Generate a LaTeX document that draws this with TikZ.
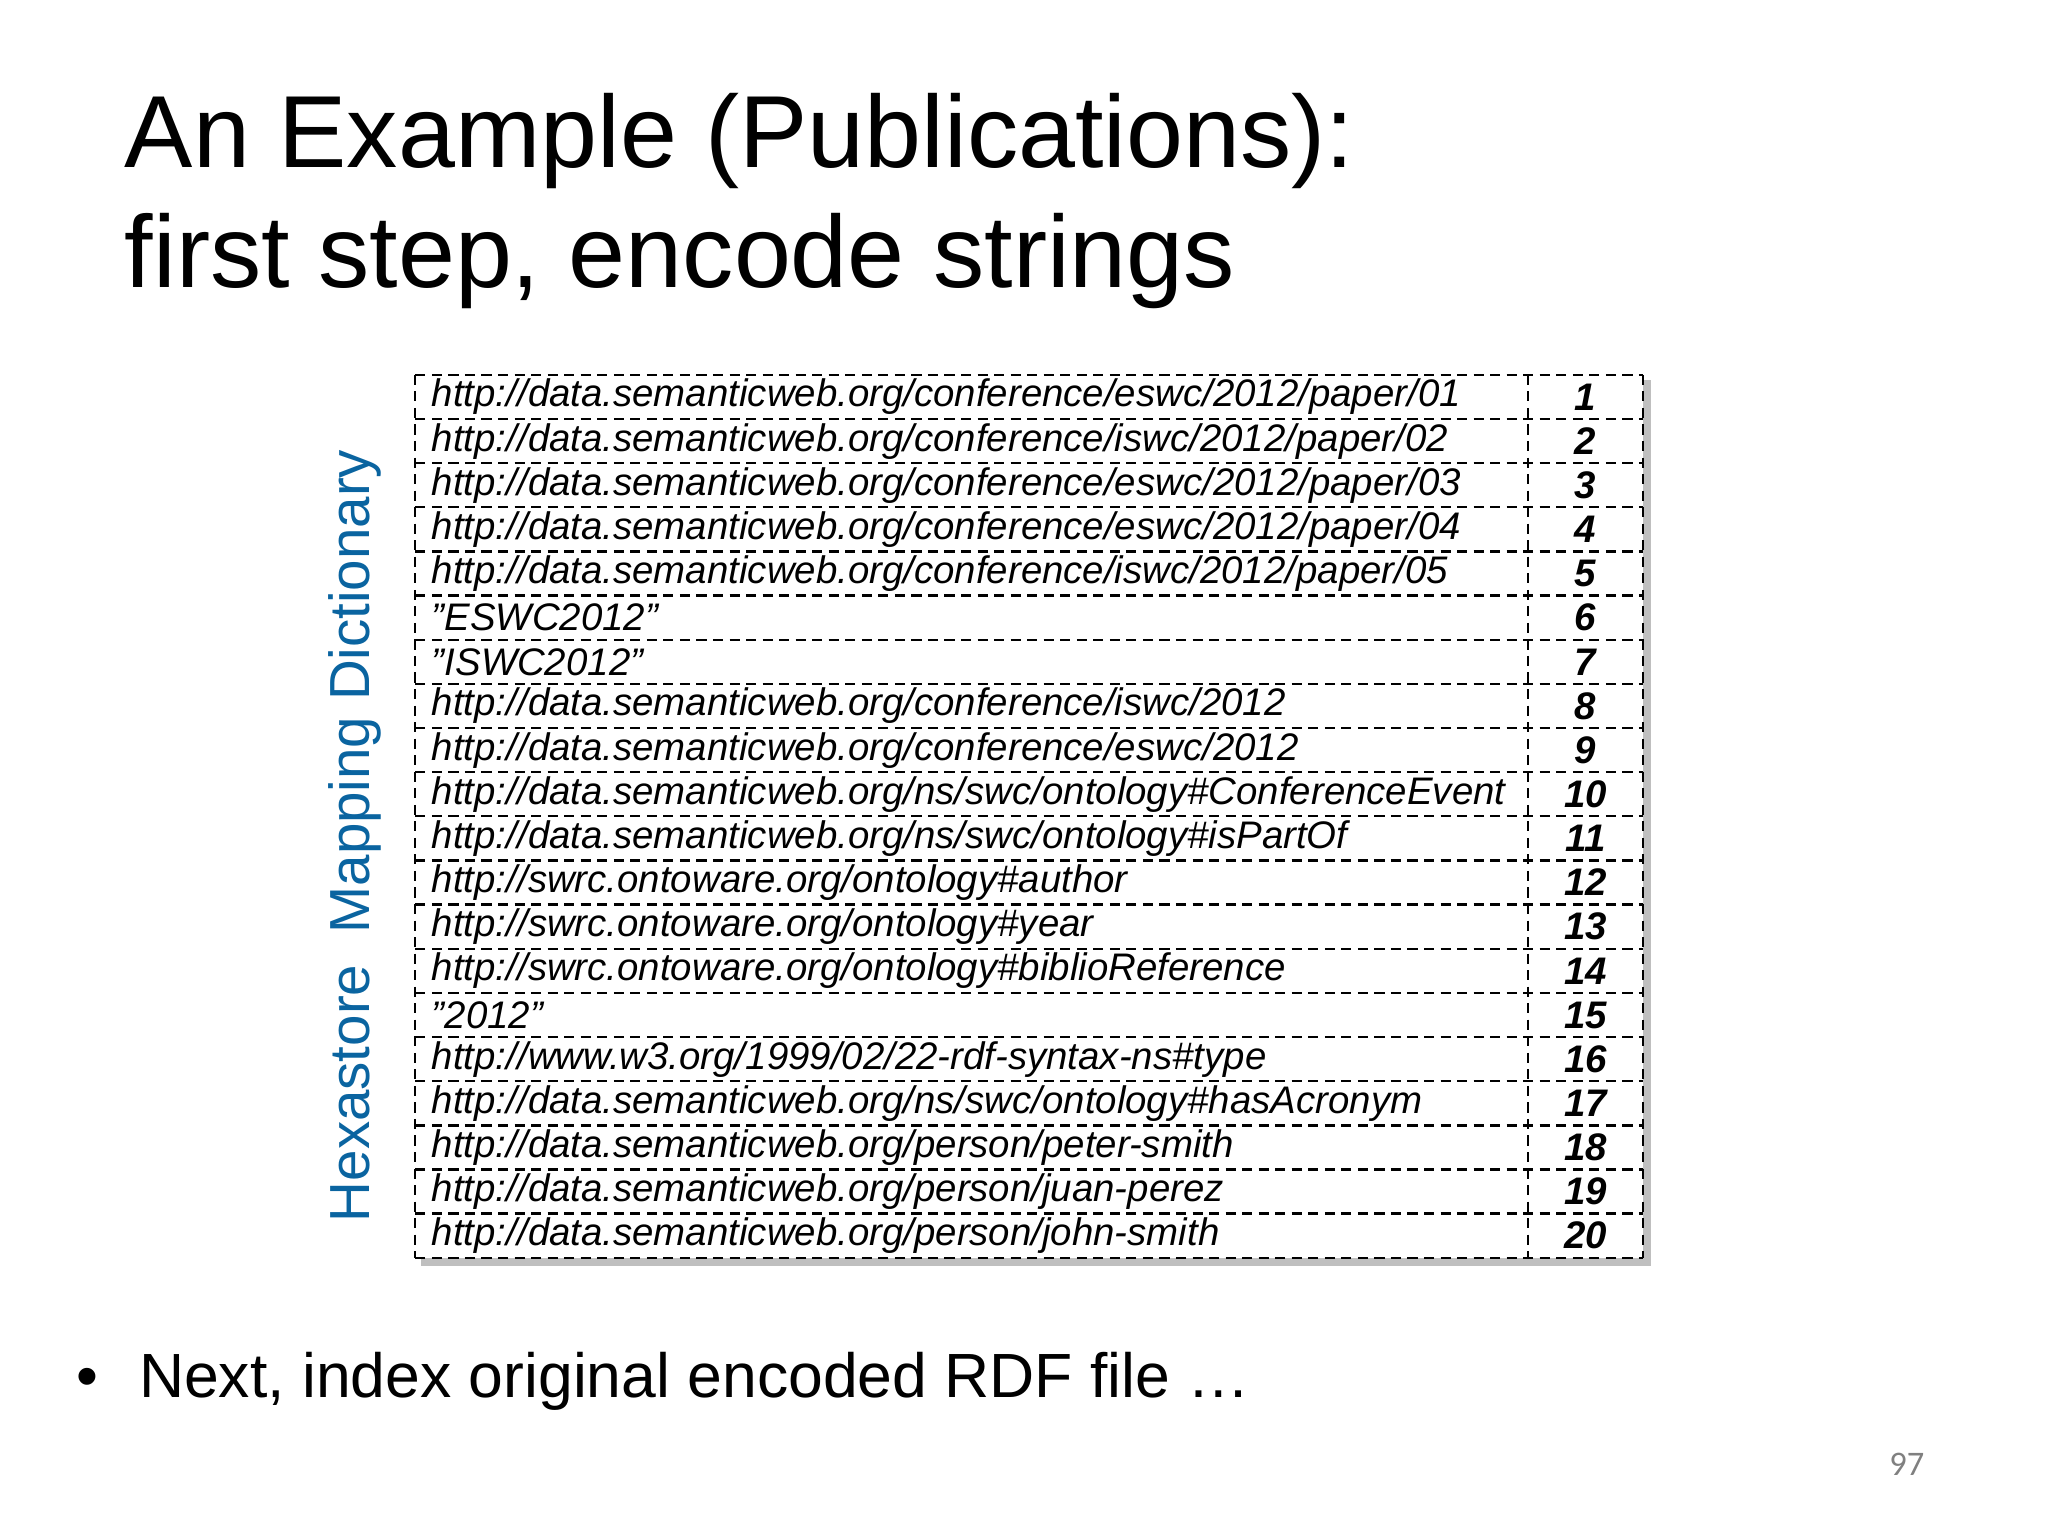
\documentclass[tikz,border=0pt]{standalone}
\usepackage{fontspec}
\setmainfont{Liberation Sans}
\newfontfamily\pgnumfont{Carlito}
\definecolor{dictblue}{RGB}{10,100,160}
\newcommand{\sq}{\symbol{34}}
\begin{document}
\begin{tikzpicture}[x=0.01cm,y=-0.01cm,
  rowtext/.style={anchor=west,font=\fontsize{8.36pt}{9pt}\selectfont\itshape,inner sep=0pt},
  numtext/.style={font=\fontsize{8.36pt}{9pt}\selectfont\bfseries\itshape,inner sep=0pt},
  dl/.style={dash pattern=on 2.2pt off 1.4pt,line width=0.5pt}]
\useasboundingbox (0,0) rectangle (1568,1176);
\node[anchor=base west,inner sep=0pt,font=\fontsize{22.3pt}{27pt}\selectfont] (t1) at (95,128) {An Example (Publications):};
\node[anchor=base west,inner sep=0pt,font=\fontsize{22.3pt}{27pt}\selectfont] (t2) at (95,220) {first step, encode strings};
% shadow
\fill[black!25] (322,291) rectangle (1264,969);
\fill[white] (318,287) rectangle (1258,963);
\foreach \i in {0,...,20} {\draw[dl] (318,287+33.8*\i) -- (1258,287+33.8*\i);}
\draw[dl] (318,287) -- (318,963);
\draw[dl] (1258,287) -- (1258,963);
\draw[dl] (1170,287) -- (1170,963);
\foreach [count=\i] \u in {
http://data.semanticweb.org/conference/eswc/2012/paper/01,
http://data.semanticweb.org/conference/iswc/2012/paper/02,
http://data.semanticweb.org/conference/eswc/2012/paper/03,
http://data.semanticweb.org/conference/eswc/2012/paper/04,
http://data.semanticweb.org/conference/iswc/2012/paper/05,
\sq ESWC2012\sq,
\sq ISWC2012\sq,
http://data.semanticweb.org/conference/iswc/2012,
http://data.semanticweb.org/conference/eswc/2012,
http://data.semanticweb.org/ns/swc/ontology\#ConferenceEvent,
http://data.semanticweb.org/ns/swc/ontology\#isPartOf,
http://swrc.ontoware.org/ontology\#author,
http://swrc.ontoware.org/ontology\#year,
http://swrc.ontoware.org/ontology\#biblioReference,
\sq 2012\sq,
http://www.w3.org/1999/02/22-rdf-syntax-ns\#type,
http://data.semanticweb.org/ns/swc/ontology\#hasAcronym,
http://data.semanticweb.org/person/peter-smith,
http://data.semanticweb.org/person/juan-perez,
http://data.semanticweb.org/person/john-smith} {
  \node[rowtext] (r\i) at (330,287+33.8*\i-16.9) {\u};
  \node[numtext] (n\i) at (1214,287+33.8*\i-16.9) {\i};
}
\node[rotate=90,anchor=center,text=dictblue,inner sep=0pt,font=\fontsize{12.3pt}{15pt}\selectfont] (lab) at (272,640) {Hexastore\ \ Mapping Dictionary};
\node[anchor=base west,inner sep=0pt,font=\fontsize{13.6pt}{17pt}\selectfont] (b) at (58,1070) {•\hspace{0.65em}Next, index original encoded RDF file …};
\node[anchor=base east,inner sep=0pt,text=black!50,font=\pgnumfont\fontsize{7.5pt}{9pt}\selectfont] (pg) at (1474,1130) {97};
\end{tikzpicture}
\end{document}
